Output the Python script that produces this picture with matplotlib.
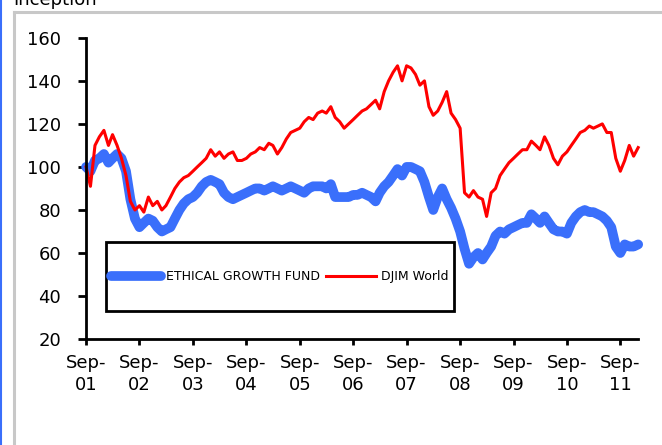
import matplotlib
matplotlib.use("Agg")
import matplotlib.pyplot as plt
import matplotlib.dates as mdates
from matplotlib.lines import Line2D
from matplotlib.patches import Rectangle
import pandas as pd

# monthly readings, Sep 2001 - Jan 2012
dates = pd.date_range("2001-09-01", periods=125, freq="MS")

fund = [100, 98, 103, 104, 106, 102, 104, 106, 104, 98, 85, 76,
        72, 74, 76, 75, 72, 70, 71, 72, 76, 80, 83, 85,
        86, 88, 91, 93, 94, 93, 92, 88, 86, 85, 86, 87,
        88, 89, 90, 90, 89, 90, 91, 90, 89, 90, 91, 90,
        89, 88, 90, 91, 91, 91, 90, 92, 86, 86, 86, 86,
        87, 87, 88, 87, 86, 84, 88, 91, 93, 96, 99, 96,
        100, 100, 99, 98, 93, 86, 80, 86, 90, 85, 81, 76,
        70, 62, 55, 58, 60, 57, 60, 63, 68, 70, 69, 71,
        72, 73, 74, 74, 78, 76, 74, 77, 74, 71, 70, 70,
        69, 74, 77, 79, 80, 79, 79, 78, 77, 75, 72, 63,
        60, 64, 63, 63, 64]

djim = [100, 91, 110, 114, 117, 110, 115, 110, 104, 96, 84, 80,
        82, 79, 86, 82, 84, 80, 82, 86, 90, 93, 95, 96,
        98, 100, 102, 104, 108, 105, 107, 104, 106, 107, 103, 103,
        104, 106, 107, 109, 108, 111, 110, 106, 109, 113, 116, 117,
        118, 121, 123, 122, 125, 126, 125, 128, 123, 121, 118, 120,
        122, 124, 126, 127, 129, 131, 127, 135, 140, 144, 147, 140,
        147, 146, 143, 138, 140, 128, 124, 126, 130, 135, 125, 122,
        118, 88, 86, 89, 86, 85, 77, 88, 90, 96, 99, 102,
        104, 106, 108, 108, 112, 110, 108, 114, 110, 104, 101, 105,
        107, 110, 113, 116, 117, 119, 118, 119, 120, 116, 116, 104,
        98, 103, 110, 105, 109]

yticks = [20, 40, 60, 80, 100, 120, 140, 160]
tick_years = list(range(2001, 2012))

fig = plt.figure(figsize=(6.62, 4.45), dpi=100)
ax = fig.add_axes([0.130, 0.238, 0.834, 0.677])

ax.plot(dates, fund, color="#3a6ffb", lw=7, solid_capstyle="round",
        solid_joinstyle="round", label="ETHICAL GROWTH FUND", clip_on=False)
ax.plot(dates, djim, color="#ff0000", lw=2.2, solid_joinstyle="round",
        label="DJIM World", clip_on=False)

ax.set_ylim(20, 160)
ax.set_yticks(yticks)
ax.set_xlim(dates[0], dates[-1])
xt = [pd.Timestamp(y, 9, 1) for y in tick_years]
ax.set_xticks(xt)
ax.set_xticklabels(["Sep-\n%02d" % (y % 100) for y in tick_years],
                   linespacing=1.25)

for s in ["top", "right"]:
    ax.spines[s].set_visible(False)
for s in ["left", "bottom"]:
    ax.spines[s].set_linewidth(2)
    ax.spines[s].set_color("black")
ax.tick_params(axis="y", direction="out", length=6, width=2, pad=12,
               labelsize=13)
ax.tick_params(axis="x", direction="out", length=4, width=2, pad=7,
               labelsize=13)

# legend box
box = Rectangle((0.036, 0.093), 0.630, 0.229, transform=ax.transAxes,
                facecolor="white", edgecolor="black", lw=2, zorder=5)
ax.add_patch(box)
leg = ax.legend(loc="center", bbox_to_anchor=(0.351, 0.2076), ncol=2,
                frameon=False, fontsize=9, handlelength=4.0,
                handletextpad=0.4, columnspacing=0.5)
leg.set_zorder(6)

# outer frame bits
fig.add_artist(Line2D([0.0015, 0.0015], [0, 1], color="#3a6ffb", lw=1.5))
fig.add_artist(Line2D([0.0215, 0.0215], [0, 0.973], color="#c8c8c8", lw=2.2))
fig.add_artist(Line2D([0.0215, 1], [0.973, 0.973], color="#c8c8c8", lw=2.2))
fig.text(0.02, 1 - 5 / 445, "Inception", fontsize=13, va="baseline")

fig.savefig("out.png", dpi=100)
